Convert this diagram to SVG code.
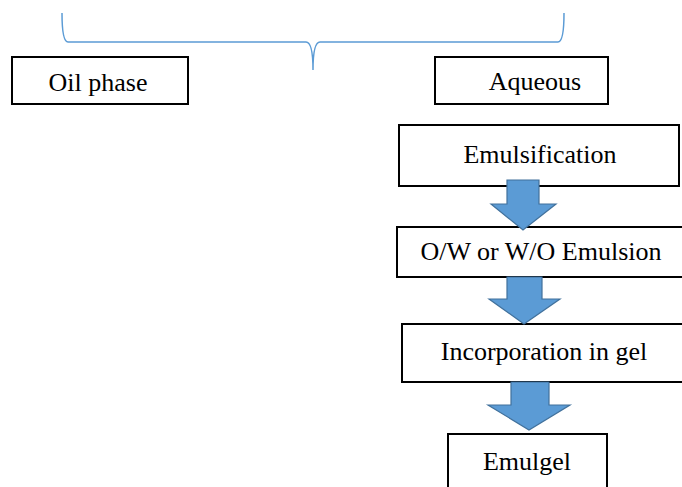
<svg xmlns="http://www.w3.org/2000/svg" width="682" height="487" viewBox="0 0 682 487">
<style>
.box{fill:#fff;stroke:#000;stroke-width:2}
.t{font-family:"Liberation Serif","Times New Roman",serif;font-size:26px;fill:#000;text-anchor:middle}
.arr{fill:#5b9bd5;stroke:#41719c;stroke-width:1.2}
.brace{fill:none;stroke:#5b9bd5;stroke-width:1.5}
</style>
<rect width="682" height="487" fill="#fff"/>
<g id="brace"><path class="brace" d="M62,13 Q62,42 68,42 L306,42 Q313,42 313,70 Q313,42 320,42 L558,42 Q564,42 564,13"/></g>
<g id="oil"><rect class="box" x="12" y="57" width="176" height="47"/><text class="t" x="98" y="91">Oil phase</text></g>
<g id="aqueous"><rect class="box" x="435" y="57" width="173" height="47"/><text class="t" x="535" y="90">Aqueous</text></g>
<g id="emulsification"><rect class="box" x="399" y="125" width="280" height="61"/><text class="t" x="540" y="163">Emulsification</text></g>
<g id="emulsion"><rect class="box" x="397" y="227" width="286" height="50"/><text class="t" x="541" y="260">O/W or W/O Emulsion</text></g>
<g id="incorporation"><rect class="box" x="402" y="324" width="284" height="58"/><text class="t" x="544" y="360">Incorporation in gel</text></g>
<g id="emulgel"><rect class="box" x="448" y="434" width="159" height="60"/><text class="t" x="527" y="470">Emulgel</text></g>
<g id="connectors">
<path class="arr" d="M507,180 L539,180 L539,204 L556,204 L523,230 L491,204 L507,204 Z"/>
<path class="arr" d="M507,277 L542,277 L542,299 L560,299 L524,324 L489,299 L507,299 Z"/>
<path class="arr" d="M511,382 L549,382 L549,405 L570,405 L529,430 L488,405 L511,405 Z"/>
</g>
</svg>
